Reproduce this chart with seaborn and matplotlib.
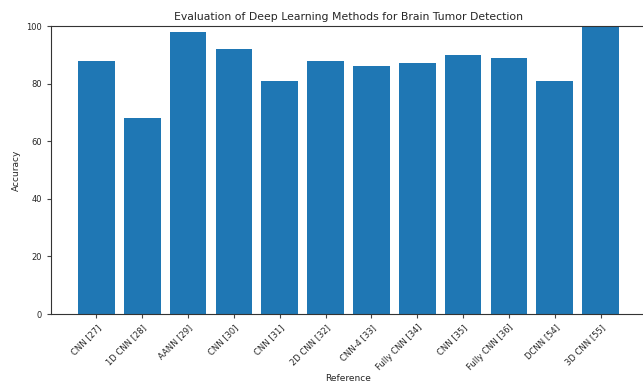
import matplotlib
matplotlib.use("Agg")
import matplotlib.pyplot as plt
import seaborn as sns
import pandas as pd

# Methods and reported accuracies
references = ["CNN [27]", "1D CNN [28]", "AANN [29]", "CNN [30]", "CNN [31]",
              "2D CNN [32]", "CNN-4 [33]", "Fully CNN [34]", "CNN [35]",
              "Fully CNN [36]", "DCNN [54]", "3D CNN [55]"]
accuracy = [88, 68, 98, 92, 81, 88, 86, 87, 90, 89, 81, 100]

df = pd.DataFrame({"Reference": references, "Accuracy": accuracy})

sns.set_style("white")
plt.rcParams["font.family"] = ["DejaVu Sans"]

fig = plt.figure(figsize=(6.43, 3.83), dpi=100)
ax = fig.add_axes([51 / 643, (383 - 314) / 383, (646 - 51) / 643, (314 - 26) / 383])

sns.barplot(data=df, x="Reference", y="Accuracy", color="#1f77b4",
            saturation=1, width=0.8, linewidth=0, ax=ax)

ax.set_xlim(-0.99, 11.99)
ax.set_ylim(0, 100)
ax.set_yticks([0, 20, 40, 60, 80, 100])
ax.tick_params(axis="both", labelsize=6, length=3, color="#444444")
ax.tick_params(axis="both", bottom=True, left=True)
plt.setp(ax.get_xticklabels(), rotation=45, ha="right", rotation_mode="anchor")
for s in ax.spines.values():
    s.set_color("#333333")
    s.set_linewidth(0.8)

ax.set_title("Evaluation of Deep Learning Methods for Brain Tumor Detection",
             fontsize=7.8, pad=4)
ax.set_xlabel("Reference", fontsize=6.5, labelpad=1)
ax.set_ylabel("Accuracy", fontsize=6.5)

fig.savefig("out.png", dpi=100)
